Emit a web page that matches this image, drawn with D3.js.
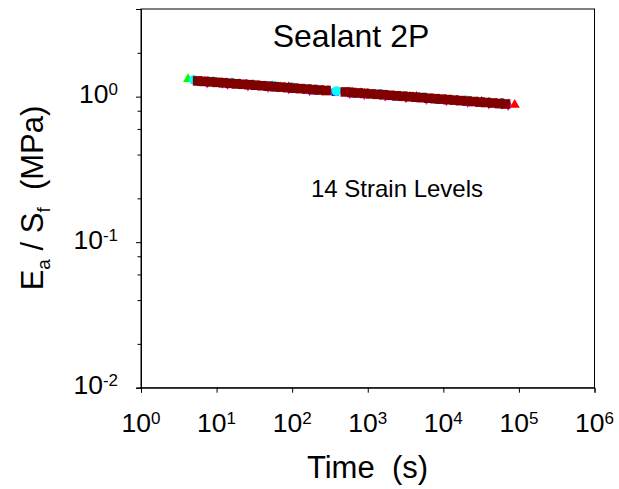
<!DOCTYPE html>
<html><head><meta charset="utf-8">
<script src="https://cdn.jsdelivr.net/npm/d3@7"></script>
<style>
html,body{margin:0;padding:0;background:#fff;}
svg text{font-family:Arial,"Liberation Sans",sans-serif;fill:#000;}
</style></head>
<body><svg id="c" width="619" height="489"></svg>
<script>
// ---------------- data ----------------
const xTickValues = [1, 10, 100, 1000, 10000, 100000, 1000000];
const xTickExps = ["0", "1", "2", "3", "4", "5", "6"];
const yTickValues = [0.01, 0.1, 1];
const yTickExps = ["-2", "-1", "0"];
const yMinorTicks = [0.02, 0.04, 0.06, 0.08, 0.2, 0.4, 0.6, 0.8, 2];

// maroon series (drawn on top)
const t14 = [5.62,6.84,8.31,10.1,12.3,14.9,18.2,22.1,26.9,32.7,39.7,48.3,58.7,71.3,86.7,105,128,156,190,231,281,504,612,745,906,1102,1340,1629,1977,2404,2924,3556,4325,5260,6397,7780,9441,11482,13964,16982,20654,25119,30549,37068,45082,54828,66681];
const v14 = [1.282,1.272,1.263,1.253,1.244,1.234,1.225,1.216,1.207,1.198,1.188,1.179,1.170,1.162,1.153,1.144,1.135,1.127,1.118,1.110,1.101,1.077,1.068,1.060,1.052,1.044,1.037,1.029,1.021,1.013,1.006,0.998,0.991,0.983,0.975,0.968,0.961,0.953,0.946,0.939,0.932,0.925,0.918,0.911,0.904,0.897,0.890];

const t1 = [6, 40, 250, 2500, 20000, 60000];
const v1 = [1.279, 1.188, 1.106, 1.012, 0.933, 0.894];
const t2 = [7, 25, 90, 300, 1000, 4000, 15000, 50000, 88000];
const v2 = [1.265, 1.204, 1.145, 1.094, 1.043, 0.988, 0.938, 0.896, 0.877];
const t3 = [4.2, 8, 20, 60, 200, 800, 3000, 12000, 40000];
const v3 = [1.320, 1.265, 1.221, 1.169, 1.116, 1.057, 1.005, 0.952, 0.908];
const t4 = [7, 45, 260, 2800, 22000, 62000];
const v4 = [1.272, 1.183, 1.104, 1.010, 0.931, 0.893];
const t5 = [6, 10, 18, 33, 60, 110, 200, 370, 700, 1300, 2400, 4500, 8500, 16000, 30000, 55000];
const v5 = [1.260, 1.235, 1.208, 1.179, 1.152, 1.126, 1.099, 1.073, 1.047, 1.022, 0.998, 0.974, 0.950, 0.927, 0.904, 0.883];
const t6 = [7.5, 14, 26, 48, 90, 170, 580, 900, 1700, 3200, 6000, 11000, 21000, 40000, 72000];
const v6 = [1.255, 1.225, 1.196, 1.168, 1.140, 1.111, 1.060, 1.042, 1.017, 0.992, 0.968, 0.946, 0.922, 0.899, 0.879];
const t7 = [5, 9, 16, 30, 55, 100, 385, 1500, 5500, 20000, 60000];
const v7 = [1.304, 1.274, 1.246, 1.216, 1.188, 1.161, 1.092, 1.044, 0.993, 0.944, 0.905];
const t8 = [8, 55, 270, 3000, 24000, 64000];
const v8 = [1.265, 1.175, 1.103, 1.008, 0.930, 0.892];
const t9 = [9, 65, 280, 3300, 26000, 65000];
const v9 = [1.259, 1.170, 1.102, 1.005, 0.927, 0.891];
const t10 = [10, 70, 290, 3600, 28000, 63000];
const v10 = [1.254, 1.166, 1.100, 1.002, 0.925, 0.893];
const t11 = [11, 80, 600, 4000, 30000, 61000];
const v11 = [1.249, 1.162, 1.069, 0.999, 0.922, 0.894];
const t12 = [12, 90, 620, 4400, 32000, 59000];
const v12 = [1.245, 1.157, 1.068, 0.996, 0.920, 0.895];
const t13 = [13, 100, 640, 4800, 34000, 57000];
const v13 = [1.240, 1.153, 1.067, 0.993, 0.918, 0.896];

const seriesTimes  = [t1, t2, t3, t4, t5, t6, t7, t8, t9, t10, t11, t12, t13, t14];
const seriesValues = [v1, v2, v3, v4, v5, v6, v7, v8, v9, v10, v11, v12, v13, v14];
const seriesColors = ["#000000","#ff0000","#00ff00","#ffff00","#0000ff","#ff00ff","#00ffff","#c0c0c0","#008000","#808000","#000080","#800080","#008080","#800000"];
const seriesShapes = ["circle","triangle","triangle","triangleDown","square","diamond","circle","square","circle","triangle","square","diamond","circle","square"];
const seriesSizes  = [40, 45, 45, 45, 55, 45, 75, 45, 40, 40, 45, 40, 40, 92];

// ---------------- layout ----------------
const svg = d3.select("#c");
const L = 141, R = 594.5, T = 9, B = 387.7;
const x = d3.scaleLog().domain([1, 1e6]).range([L, R]);
const y = d3.scaleLog().domain([0.01, 4]).range([B, T]);

// frame
svg.append("rect").attr("x", L).attr("y", T).attr("width", R - L).attr("height", B - T)
  .attr("fill", "none").attr("stroke", "#000").attr("stroke-width", 1);

// axes
const gx = svg.append("g").attr("transform", `translate(0,${B})`)
  .call(d3.axisBottom(x).tickValues(xTickValues).tickSize(5).tickFormat(""));
const gy = svg.append("g").attr("transform", `translate(${L},0)`)
  .call(d3.axisLeft(y).tickValues(yTickValues).tickSize(5).tickFormat(""));
const gym = svg.append("g").attr("transform", `translate(${L},0)`)
  .call(d3.axisLeft(y).tickValues(yMinorTicks).tickSize(3.5).tickFormat(""));
[gx, gy, gym].forEach(g => { g.select(".domain").attr("stroke", "#000"); g.selectAll("line").attr("stroke", "#000"); });

// tick labels
xTickValues.forEach((v, i) => {
  const t = svg.append("text").attr("x", x(v)).attr("y", 431.5).attr("text-anchor", "middle")
    .attr("font-size", 26.5);
  t.append("tspan").text("10");
  t.append("tspan").attr("dy", -8).attr("font-size", 17).text(xTickExps[i]);
});
yTickValues.forEach((v, i) => {
  const t = svg.append("text").attr("x", 118).attr("y", y(v) + 6.5).attr("text-anchor", "end")
    .attr("font-size", 26.5);
  t.append("tspan").text("10");
  t.append("tspan").attr("dy", -8).attr("font-size", 17).text(yTickExps[i]);
});

// data
const shapeMap = {circle: d3.symbolCircle, triangle: d3.symbolTriangle, square: d3.symbolSquare, diamond: d3.symbolDiamond, triangleDown: d3.symbolTriangle};
seriesTimes.forEach((ts, s) => {
  const pts = ts.map((t, i) => [t, seriesValues[s][i]]);
  const sym = d3.symbol().type(shapeMap[seriesShapes[s]]).size(seriesSizes[s]);
  svg.append("g").selectAll("path").data(pts).join("path")
    .attr("d", sym)
    .attr("transform", d => `translate(${x(d[0])},${y(d[1])})` + (seriesShapes[s] === "triangleDown" ? " rotate(180)" : ""))
    .attr("fill", seriesColors[s]);
});

// texts
svg.append("text").attr("x", 351).attr("y", 46.5).attr("text-anchor", "middle")
  .attr("font-size", 32).text("Sealant 2P");
svg.append("text").attr("x", 397).attr("y", 196.5).attr("text-anchor", "middle")
  .attr("font-size", 24).text("14 Strain Levels");
svg.append("text").attr("x", 367.5).attr("y", 478).attr("text-anchor", "middle")
  .attr("font-size", 31).attr("xml:space", "preserve").text("Time  (s)");

const yl = svg.append("text").attr("transform", "translate(43,198) rotate(-90)")
  .attr("text-anchor", "middle").attr("font-size", 31);
yl.append("tspan").text("E");
yl.append("tspan").attr("font-size", 19).attr("dy", 7).text("a");
yl.append("tspan").attr("dy", -7).text("\u00A0/\u00A0S");
yl.append("tspan").attr("font-size", 19).attr("dy", 7).text("f");
yl.append("tspan").attr("dy", -7).text("\u00A0\u00A0(MPa)");
</script></body></html>
